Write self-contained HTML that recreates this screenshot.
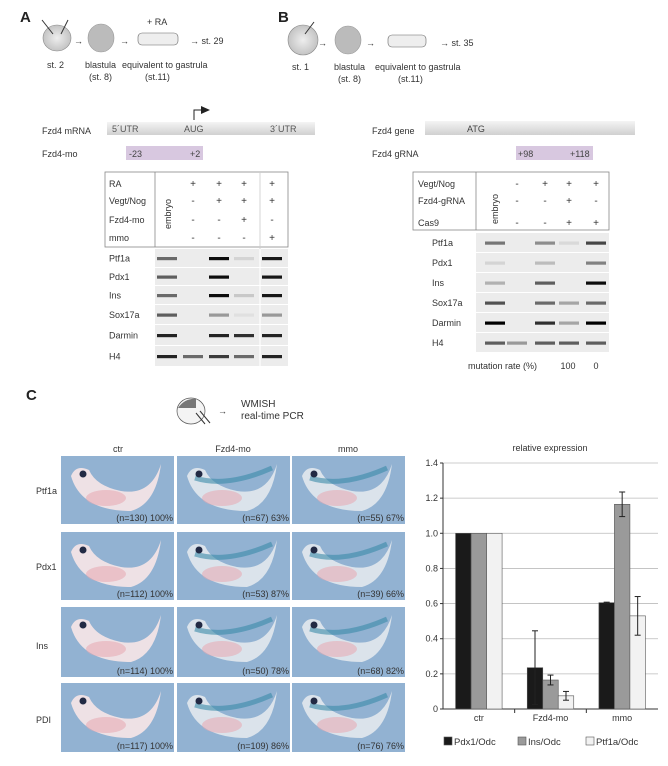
<!DOCTYPE html>
<html><head><meta charset="utf-8"><style>
body{margin:0;background:#fff;}
svg{display:block;font-family:"Liberation Sans",sans-serif;}
</style></head><body>
<svg id="fig" width="668" height="766" viewBox="0 0 668 766">
<defs>
<radialGradient id="egg" cx="0.5" cy="0.5" r="0.6"><stop offset="0" stop-color="#eee"/><stop offset="1" stop-color="#bbb"/></radialGradient>
<linearGradient id="bar" x1="0" y1="0" x2="0" y2="1"><stop offset="0" stop-color="#f4f4f4"/><stop offset="1" stop-color="#d0d0d0"/></linearGradient>
</defs>
<rect width="668" height="766" fill="#fff"/>
<!-- Panel A schematic -->
<g font-size="9" fill="#333">
<text x="20" y="22" font-size="15" font-weight="bold" fill="#222">A</text>
<ellipse cx="57" cy="38" rx="14" ry="13" fill="url(#egg)" stroke="#888" stroke-width="0.6"/>
<line x1="42" y1="20" x2="53" y2="34" stroke="#333"/><line x1="68" y1="20" x2="61" y2="34" stroke="#333"/>
<text x="74" y="44">→</text>
<ellipse cx="101" cy="38" rx="13" ry="14" fill="#bbb" stroke="#999" stroke-width="0.6"/>
<text x="120" y="44">→</text>
<text x="147" y="25">+ RA</text>
<rect x="138" y="33" width="40" height="12" rx="4" fill="#eee" stroke="#666" stroke-width="0.6"/>
<text x="190" y="44">→ st. 29</text>
<text x="47" y="68">st. 2</text>
<text x="85" y="68">blastula</text><text x="89" y="80">(st. 8)</text>
<text x="122" y="68">equivalent to gastrula</text><text x="145" y="80">(st.11)</text>
</g>
<!-- Panel B schematic -->
<g font-size="9" fill="#333">
<text x="278" y="22" font-size="15" font-weight="bold" fill="#222">B</text>
<ellipse cx="303" cy="40" rx="15" ry="15" fill="url(#egg)" stroke="#888" stroke-width="0.6"/>
<line x1="314" y1="22" x2="305" y2="34" stroke="#333"/>
<text x="318" y="46">→</text>
<ellipse cx="348" cy="40" rx="13" ry="14" fill="#bbb" stroke="#999" stroke-width="0.6"/>
<text x="366" y="46">→</text>
<rect x="388" y="35" width="38" height="12" rx="4" fill="#eee" stroke="#666" stroke-width="0.6"/>
<text x="440" y="46">→ st. 35</text>
<text x="292" y="70">st. 1</text>
<text x="334" y="70">blastula</text><text x="338" y="82">(st. 8)</text>
<text x="375" y="70">equivalent to gastrula</text><text x="398" y="82">(st.11)</text>
</g>
<!-- Panel A gene/gel -->
<g font-size="9" fill="#333">
<text x="42" y="134">Fzd4 mRNA</text>
<rect x="107" y="122" width="208" height="13" fill="url(#bar)"/>
<text x="112" y="132" fill="#555">5´UTR</text><text x="184" y="132" fill="#555">AUG</text><text x="270" y="132" fill="#555">3´UTR</text>
<path d="M194 120 V110 H202" stroke="#222" fill="none"/><path d="M201 106 L210 110 L201 114 Z" fill="#222"/>
<text x="42" y="157">Fzd4-mo</text>
<rect x="126" y="146" width="77" height="14" fill="#d8c8e0"/>
<text x="129" y="157" fill="#444">-23</text><text x="190" y="157" fill="#444">+2</text>
<rect x="105" y="172" width="183" height="75" fill="none" stroke="#888" stroke-width="0.8"/>
<line x1="155" y1="172" x2="155" y2="247" stroke="#888" stroke-width="0.8"/>
<line x1="260" y1="172" x2="260" y2="367" stroke="#ccc" stroke-width="0.8"/>
<text x="109" y="187">RA</text><text x="109" y="204">Vegt/Nog</text><text x="109" y="223">Fzd4-mo</text><text x="109" y="241">mmo</text>
<text transform="translate(171,229) rotate(-90)">embryo</text>
<g text-anchor="middle" font-size="10">
<text x="193" y="187">+</text><text x="219" y="187">+</text><text x="244" y="187">+</text><text x="272" y="187">+</text>
<text x="193" y="204">-</text><text x="219" y="204">+</text><text x="244" y="204">+</text><text x="272" y="204">+</text>
<text x="193" y="223">-</text><text x="219" y="223">-</text><text x="244" y="223">+</text><text x="272" y="223">-</text>
<text x="193" y="241">-</text><text x="219" y="241">-</text><text x="244" y="241">-</text><text x="272" y="241">+</text>
</g>
<g id="gelA"></g>
</g>
<!-- Panel B gene/gel -->
<g font-size="9" fill="#333">
<text x="372" y="134">Fzd4 gene</text>
<rect x="425" y="121" width="210" height="14" fill="url(#bar)"/>
<text x="467" y="132" fill="#444">ATG</text>
<text x="372" y="157">Fzd4 gRNA</text>
<rect x="516" y="146" width="77" height="14" fill="#d8c8e0"/>
<text x="518" y="157" fill="#444">+98</text><text x="570" y="157" fill="#444">+118</text>
<rect x="413" y="172" width="196" height="58" fill="none" stroke="#888" stroke-width="0.8"/>
<line x1="476" y1="172" x2="476" y2="230" stroke="#888" stroke-width="0.8"/>
<text x="418" y="187">Vegt/Nog</text><text x="418" y="204">Fzd4-gRNA</text><text x="418" y="226">Cas9</text>
<text transform="translate(498,224) rotate(-90)">embryo</text>
<g text-anchor="middle" font-size="10">
<text x="517" y="187">-</text><text x="545" y="187">+</text><text x="569" y="187">+</text><text x="596" y="187">+</text>
<text x="517" y="204">-</text><text x="545" y="204">-</text><text x="569" y="204">+</text><text x="596" y="204">-</text>
<text x="517" y="226">-</text><text x="545" y="226">-</text><text x="569" y="226">+</text><text x="596" y="226">+</text>
</g>
<text x="468" y="369">mutation rate  (%)</text><text x="568" y="369" text-anchor="middle">100</text><text x="596" y="369" text-anchor="middle">0</text>
<g id="gelB"></g>
</g>
<!-- Panel C -->
<g font-size="9" fill="#333">
<text x="26" y="400" font-size="15" font-weight="bold" fill="#222">C</text>
<ellipse cx="191" cy="411" rx="14" ry="13" fill="#f4f4f4" stroke="#555" stroke-width="0.7"/>
<path d="M178 408 Q185 398 196 399 L196 408 Z" fill="#777"/>
<line x1="196" y1="413" x2="205" y2="424" stroke="#333"/><line x1="200" y1="411" x2="210" y2="423" stroke="#333"/>
<text x="218" y="414">→</text>
<text x="241" y="407" font-size="10">WMISH</text><text x="241" y="419" font-size="10">real-time PCR</text>
<text x="118" y="452" text-anchor="middle">ctr</text><text x="233" y="452" text-anchor="middle">Fzd4-mo</text><text x="348" y="452" text-anchor="middle">mmo</text>
<text x="36" y="494">Ptf1a</text><text x="36" y="570">Pdx1</text><text x="36" y="649">Ins</text><text x="36" y="723">PDI</text>
<g id="photos"></g>
</g>
<!-- Bar chart -->
<g id="chart" font-size="9" fill="#333"></g>
</svg>
<script>
const categories = ["ctr", "Fzd4-mo", "mmo"];
const seriesNames = ["Pdx1/Odc", "Ins/Odc", "Ptf1a/Odc"];
const pdx1Values = [1.0, 0.235, 0.605];
const insValues = [1.0, 0.165, 1.165];
const ptf1aValues = [1.0, 0.075, 0.53];
const pdx1Err = [0.0, 0.21, 0.003];
const insErr = [0.0, 0.028, 0.07];
const ptf1aErr = [0.0, 0.025, 0.11];
const yTicks = [0, 0.2, 0.4, 0.6, 0.8, 1.0, 1.2, 1.4];
const yTickLabels = ["0", "0.2", "0.4", "0.6", "0.8", "1.0", "1.2", "1.4"];

const NS = "http://www.w3.org/2000/svg";
function mk(tag, attrs, parent){const e=document.createElementNS(NS,tag);for(const k in attrs)e.setAttribute(k,attrs[k]);parent.appendChild(e);return e;}

const ch = document.getElementById('chart');
const px0=443, px1=658, py0=709, py1=463;
const yS = v => py0 - (v/1.4)*(py0-py1);
const bandW = (px1-px0)/categories.length;
const xC = i => px0 + bandW*(i+0.5);
const t = mk('text',{x:550,y:451,'text-anchor':'middle'},ch); t.textContent='relative expression';


yTicks.forEach((v,i)=>{
  if(v>0){const g=mk('line',{x1:px0,x2:px1,y1:yS(v),y2:yS(v),stroke:'#bbb','stroke-width':0.8},ch);
  
  }
  mk('line',{x1:px0-3,x2:px0,y1:yS(v),y2:yS(v),stroke:'#333'},ch);
  const lb=mk('text',{x:px0-5,y:yS(v)+3,'text-anchor':'end','font-size':9},ch);
  lb.textContent=yTickLabels[i];
  
  
});
mk('line',{x1:px0,x2:px0,y1:py1,y2:py0,stroke:'#333'},ch);
mk('line',{x1:px0,x2:px1,y1:py0,y2:py0,stroke:'#333'},ch);
const series=[pdx1Values,insValues,ptf1aValues];
const errs=[pdx1Err,insErr,ptf1aErr];
const fills=['#1a1a1a','#9a9a9a','#f2f2f2'];
const bw=15.5;
categories.forEach((c,i)=>{
  if(i>0) mk('line',{x1:px0+bandW*i,x2:px0+bandW*i,y1:py0,y2:py0+4,stroke:'#333'},ch);
  const l=mk('text',{x:xC(i),y:py0+12,'text-anchor':'middle'},ch); l.textContent=c;
  
  
  series.forEach((s,j)=>{
    const x=xC(i)+(j-1.5)*bw;
    const r=mk('rect',{x:x,y:yS(s[i]),width:bw,height:py0-yS(s[i]),fill:fills[j],stroke:'#555','stroke-width':0.6},ch);
    
    
    const e=errs[j][i], cx=x+bw/2;
    if(e>0.001){
      mk('line',{x1:cx,x2:cx,y1:yS(s[i]+e),y2:yS(s[i]-e),stroke:'#222'},ch);
      mk('line',{x1:cx-3,x2:cx+3,y1:yS(s[i]+e),y2:yS(s[i]+e),stroke:'#222'},ch);
      mk('line',{x1:cx-3,x2:cx+3,y1:yS(s[i]-e),y2:yS(s[i]-e),stroke:'#222'},ch);
    }
  });
});
[[444,'Pdx1/Odc'],[518,'Ins/Odc'],[586,'Ptf1a/Odc']].forEach((p,j)=>{
  const r=mk('rect',{x:p[0],y:737,width:8,height:8,fill:fills[j],stroke:'#555','stroke-width':0.6},ch);
  
  
  const l=mk('text',{x:p[0]+10,y:745,'font-size':9.5},ch); l.textContent=seriesNames[j];
  
  
});

function gel(gid, x0, x1, rows, lanes, div){
  const g=document.getElementById(gid);
  rows.forEach(r=>{
    mk('rect',{x:x0,y:r.y0,width:x1-x0,height:r.y1-r.y0-1,fill:'#ececec'},g);
    const lb=mk('text',{x:r.lx,y:(r.y0+r.y1)/2+3},g); lb.textContent=r.name;
    
    
    r.b.forEach((v,k)=>{ if(v>0) mk('rect',{x:lanes[k]-10,y:(r.y0+r.y1)/2-1.5,width:20,height:3.2,fill:'#000','fill-opacity':v},g);});
  });
  if(div) mk('line',{x1:div,x2:div,y1:rows[0].y0,y2:rows[rows.length-1].y1,stroke:'#fff','stroke-width':1.2},g);
}
gel('gelA',155,288,[
 {name:'Ptf1a',y0:249,y1:268,lx:109,b:[.55,0,.95,.1,.9]},
 {name:'Pdx1',y0:268,y1:286,lx:109,b:[.6,0,.95,0,.9]},
 {name:'Ins',y0:286,y1:305,lx:109,b:[.55,0,.95,.15,.9]},
 {name:'Sox17a',y0:305,y1:325,lx:109,b:[.6,0,.35,.05,.35]},
 {name:'Darmin',y0:325,y1:346,lx:109,b:[.85,0,.85,.8,.85]},
 {name:'H4',y0:346,y1:367,lx:109,b:[.85,.55,.75,.55,.85]}],
 [167,193,219,244,272],260);
gel('gelB',476,609,[
 {name:'Ptf1a',y0:233,y1:253,lx:432,b:[.5,0,.4,.08,.7]},
 {name:'Pdx1',y0:253,y1:273,lx:432,b:[.1,0,.2,0,.45]},
 {name:'Ins',y0:273,y1:293,lx:432,b:[.25,0,.6,0,.95]},
 {name:'Sox17a',y0:293,y1:313,lx:432,b:[.65,0,.55,.3,.55]},
 {name:'Darmin',y0:313,y1:333,lx:432,b:[1,0,.8,.3,1]},
 {name:'H4',y0:333,y1:353,lx:432,b:[.6,.35,.6,.6,.6]}],
 [495,517,545,569,596],0);

const photoCaptions=[["(n=130) 100%","(n=67) 63%","(n=55) 67%"],["(n=112) 100%","(n=53) 87%","(n=39) 66%"],["(n=114) 100%","(n=50) 78%","(n=68) 82%"],["(n=117) 100%","(n=109) 86%","(n=76) 76%"]];
const ph=document.getElementById('photos');
const colX=[61,177,292], rowY=[456,532,607,683], rowH=[68,68,70,69];
rowY.forEach((y,r)=>colX.forEach((x,c)=>{
  const w = 113;
  const bg=mk('rect',{x:x,y:y,width:w,height:rowH[r],fill:'#92b2d2'},ph);
  
  
  const tint = c===0 ? '#f3e4e6' : '#dfe6ec';
  mk('path',{d:`M${x+10} ${y+20} Q${x+20} ${y+55} ${x+70} ${y+55} Q${x+95} ${y+48} ${x+100} ${y+8} Q${x+90} ${y+40} ${x+60} ${y+35} Q${x+35} ${y+30} ${x+28} ${y+14} Q${x+15} ${y+8} ${x+10} ${y+20} Z`,fill:tint,opacity:0.95},ph);
  mk('ellipse',{cx:x+45,cy:y+42,rx:20,ry:8,fill:'#e8a8b0',opacity:0.55},ph);
  if(c>0) mk('path',{d:`M${x+18} ${y+22} Q${x+50} ${y+32} ${x+95} ${y+12}`,stroke:'#3a8aa8','stroke-width':5,fill:'none',opacity:0.6},ph);
  mk('circle',{cx:x+22,cy:y+18,r:3.5,fill:'#222a44'},ph);
  const t=mk('text',{x:x+w-1,y:y+rowH[r]-3,'text-anchor':'end','font-size':9,fill:'#333'},ph);
  t.textContent=photoCaptions[r][c];
  
  
}));
</script>
</body></html>
